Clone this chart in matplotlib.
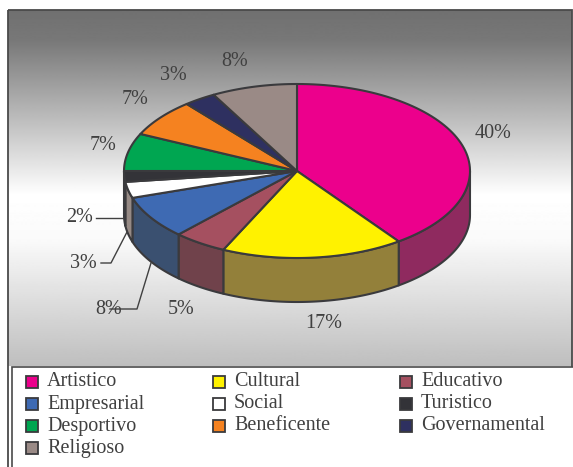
import numpy as np
import matplotlib
matplotlib.use("Agg")
import matplotlib.pyplot as plt
from matplotlib.patches import Polygon, Rectangle

categories = ["Artistico", "Cultural", "Educativo", "Empresarial", "Social",
              "Turistico", "Desportivo", "Beneficente", "Governamental", "Religioso"]
values = [40, 17, 5, 8, 3, 2, 7, 7, 3, 8]
top_colors = ["#ec008c", "#fff200", "#a55060", "#3e6ab3", "#ffffff",
              "#333338", "#00a651", "#f58220", "#2e3060", "#9a8a86"]
side_colors = ["#8f2a5f", "#93803a", "#70424b", "#3a5070", "#968a85",
               "#333338", "#00a651", "#f58220", "#2e3060", "#9a8a86"]
value_labels = ["40%", "17%", "5%", "8%", "3%", "2%", "7%", "7%", "3%", "8%"]
label_pos = [(493, 134), (324, 323), (181, 309), (109, 309), (83, 263),
             (80, 218), (103, 145), (135, 99), (173, 75), (235, 61)]
leader_lines = [[(110, 309), (137, 309), (151, 263)],
                [(101, 263), (111, 263), (127, 232)],
                [(96, 218), (123, 218)]]

line_col = "#3a3a3d"
text_col = "#404040"
cx, cy, rx, ry, depth = 297, 171, 173, 87, 44

fig = plt.figure(figsize=(5.73, 4.67), dpi=100)
ax = fig.add_axes([0, 0, 1, 1])
ax.set_xlim(0, 573)
ax.set_ylim(467, 0)
ax.axis("off")
plt.rcParams["font.family"] = "Liberation Serif"

# background gradient
ys = np.arange(10, 367)
grad = np.interp(ys, [10, 40, 195, 240, 366], [112, 120, 255, 250, 190])
ax.imshow(grad.reshape(-1, 1), cmap="gray", vmin=0, vmax=255, aspect="auto",
          extent=[8, 572, 366, 10], zorder=0)
ax.add_patch(Rectangle((8, 10), 564, 470, fill=False, ec="#4a4a4a", lw=1.3, zorder=1))
ax.add_patch(Rectangle((12, 367), 570, 110, fc="white", ec="#4a4a4a", lw=1.2, zorder=1))

def rim(a, b):
    t = np.radians(np.linspace(a, b, 80))
    return cx + rx * np.sin(t), cy - ry * np.cos(t)

start = 0
angles = []
for v in values:
    angles.append((start, start + v * 3.6))
    start += v * 3.6

# side walls first, only the front half of the pie shows them
for (a, b), col in zip(angles, side_colors):
    a2, b2 = max(a, 90), min(b, 270)
    if a2 >= b2:
        continue
    x, y = rim(a2, b2)
    pts = np.r_[np.c_[x, y], np.c_[x[::-1], y[::-1] + depth]]
    ax.add_patch(Polygon(pts, fc=col, ec=line_col, lw=1.5, joinstyle="round", zorder=2))

for (a, b), col in zip(angles, top_colors):
    x, y = rim(a, b)
    pts = np.r_[[(cx, cy)], np.c_[x, y]]
    ax.add_patch(Polygon(pts, fc=col, ec=line_col, lw=1.5, joinstyle="round", zorder=3))

for lab, (x, y) in zip(value_labels, label_pos):
    ax.text(x, y, lab, fontsize=14.5, color=text_col, ha="center", va="center", zorder=5)
for line in leader_lines:
    xs, yl = zip(*line)
    ax.plot(xs, yl, color=text_col, lw=1, zorder=4)

# legend
col_x = [26, 213, 400]
row_y = [382, 404, 426, 448]
for i, (name, col) in enumerate(zip(categories, top_colors)):
    sx, sy = col_x[i % 3], row_y[i // 3]
    ax.add_patch(Rectangle((sx, sy - 6), 12, 12, fc=col, ec=line_col, lw=1.3, zorder=3))
    ax.text(sx + 21, sy, name, fontsize=14.5, color=text_col, va="center", zorder=3)

fig.savefig("out.png", dpi=100)
